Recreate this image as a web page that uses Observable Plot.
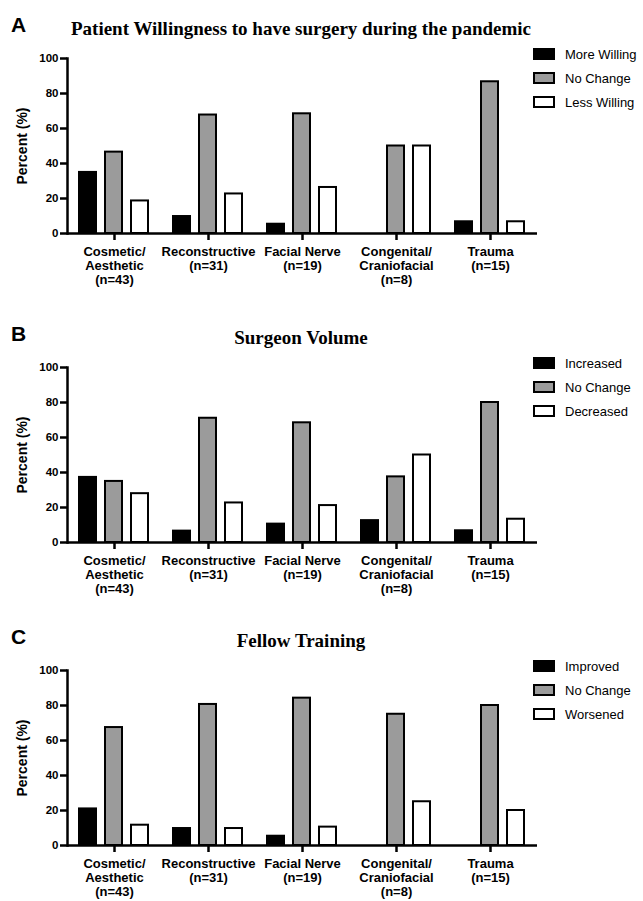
<!DOCTYPE html>
<html>
<head>
<meta charset="utf-8">
<script src="https://cdn.jsdelivr.net/npm/d3@7"></script>
<script src="https://cdn.jsdelivr.net/npm/@observablehq/plot@0.6"></script>
<style>
  html, body { margin: 0; padding: 0; background: #fff; }
  #root { position: relative; width: 643px; height: 901px; overflow: hidden; font-family: "Liberation Sans", Arial, sans-serif; color: #000; }
  .panel { position: absolute; left: 0; width: 643px; height: 310px; }
  .letter { position: absolute; left: 11px; top: 14px; font-size: 21px; font-weight: bold; line-height: 21px; }
  .title { position: absolute; left: 0; width: 602px; text-align: center; top: 19px; font-family: "Liberation Serif", "Times New Roman", serif; font-weight: bold; font-size: 19px; line-height: 19px; }
  .ylabel { position: absolute; left: 22px; top: 146px; transform: translate(-50%, -50%) rotate(-90deg); font-weight: bold; font-size: 14px; white-space: nowrap; }
  .legend-row { position: absolute; left: 533px; height: 16px; display: flex; align-items: center; font-size: 13px; white-space: nowrap; }
  .swatch { width: 18px; height: 8px; border: 2px solid #000; margin-right: 10px; }
  .plotwrap { position: absolute; left: 0; top: 48px; }
</style>
</head>
<body>
<div id="root"></div>
<script>
// ---- Data ----
const categoryKeys = ["Cosmetic/Aesthetic", "Reconstructive", "Facial Nerve", "Congenital/Craniofacial", "Trauma"];
const categoryLabels = ["Cosmetic/\nAesthetic\n(n=43)", "Reconstructive\n(n=31)", "Facial Nerve\n(n=19)", "Congenital/\nCraniofacial\n(n=8)", "Trauma\n(n=15)"];
const yTicks = [0, 20, 40, 60, 80, 100];
const fillColors = ["#000000", "#9b9b9b", "#ffffff"];

// Panel A
const willingSeries = ["More Willing", "No Change", "Less Willing"];
const willingMore = [34.9, 9.7, 5.3, 0, 6.7];
const willingNoChange = [46.5, 67.7, 68.4, 50.0, 86.7];
const willingLess = [18.6, 22.6, 26.3, 50.0, 6.7];

// Panel B
const volumeSeries = ["Increased", "No Change", "Decreased"];
const volumeIncreased = [37.2, 6.5, 10.5, 12.5, 6.7];
const volumeNoChange = [34.9, 71.0, 68.4, 37.5, 80.0];
const volumeDecreased = [27.9, 22.6, 21.1, 50.0, 13.3];

// Panel C
const trainingSeries = ["Improved", "No Change", "Worsened"];
const trainingImproved = [20.9, 9.7, 5.3, 0, 0];
const trainingNoChange = [67.4, 80.6, 84.2, 75.0, 80.0];
const trainingWorsened = [11.6, 9.7, 10.5, 25.0, 20.0];

const panels = [
  {letter: "A", title: "Patient Willingness to have surgery during the pandemic", series: willingSeries, values: [willingMore, willingNoChange, willingLess], top: 0},
  {letter: "B", title: "Surgeon Volume", series: volumeSeries, values: [volumeIncreased, volumeNoChange, volumeDecreased], top: 309},
  {letter: "C", title: "Fellow Training", series: trainingSeries, values: [trainingImproved, trainingNoChange, trainingWorsened], top: 612}
];

const labelOf = Object.fromEntries(categoryKeys.map((k, i) => [k, categoryLabels[i]]));
const root = document.getElementById("root");

for (const p of panels) {
  const div = document.createElement("div");
  div.className = "panel";
  div.style.top = p.top + "px";
  root.appendChild(div);

  const letter = document.createElement("div");
  letter.className = "letter"; letter.textContent = p.letter; div.appendChild(letter);
  const title = document.createElement("div");
  title.className = "title"; title.textContent = p.title; div.appendChild(title);
  const yl = document.createElement("div");
  yl.className = "ylabel"; yl.textContent = "Percent (%)"; div.appendChild(yl);

  p.series.forEach((s, j) => {
    const row = document.createElement("div");
    row.className = "legend-row";
    row.style.top = (46 + j * 24) + "px";
    const sw = document.createElement("div");
    sw.className = "swatch"; sw.style.background = fillColors[j];
    row.appendChild(sw);
    const t = document.createElement("span"); t.textContent = s; row.appendChild(t);
    div.appendChild(row);
  });

  const data = [];
  categoryKeys.forEach((c, i) => p.series.forEach((s, j) => {
    const v = p.values[j][i];
    if (v > 0) data.push({category: c, series: s, value: v});
  }));

  const chart = Plot.plot({
    width: 643,
    height: 238,
    marginLeft: 67,
    marginRight: 106,
    marginTop: 10,
    marginBottom: 53,
    style: {fontFamily: "'Liberation Sans', Arial, sans-serif", fontWeight: "bold", fontSize: "12px", color: "#000", background: "transparent", overflow: "visible"},
    fx: {domain: categoryKeys, paddingInner: 0, paddingOuter: 0, axis: null, label: null},
    x: {domain: p.series, paddingInner: 0.346, paddingOuter: 0.48, axis: null},
    y: {domain: [0, 100], axis: null},
    color: {domain: p.series, range: fillColors},
    marks: [
      Plot.barY(data, {fx: "category", x: "series", y: "value", fill: "series", stroke: "#000", strokeWidth: 2}),
      Plot.ruleY([0], {stroke: "#000", strokeWidth: 2.5}),
      Plot.frame({anchor: "left", facetAnchor: "left", stroke: "#000", strokeWidth: 2.5}),
      Plot.axisY({anchor: "left", ticks: yTicks, tickSize: 7, tickPadding: 2, stroke: "#000", strokeWidth: 2.5, fontSize: 11.5, label: null}),
      Plot.axisFx({anchor: "bottom", tickSize: 7, tickPadding: 5, stroke: "#000", strokeWidth: 2.5, fontSize: 13, lineHeight: 1.1, tickFormat: k => labelOf[k], label: null})
    ]
  });
  const wrap = document.createElement("div");
  wrap.className = "plotwrap";
  wrap.appendChild(chart);
  div.appendChild(wrap);
}
</script>
</body>
</html>
